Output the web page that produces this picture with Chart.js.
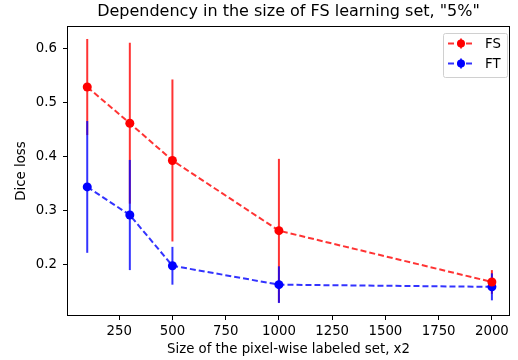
<!DOCTYPE html>
<html>
<head>
<meta charset="utf-8">
<script src="https://cdn.jsdelivr.net/npm/chart.js@4.4.0/dist/chart.umd.min.js"></script>
<style>
  body { margin: 0; background: #fff; }
</style>
</head>
<body>
<canvas id="chart" width="518" height="360"></canvas>
<script>
const sizes = [100, 300, 500, 1000, 2000];
const fsMean = [0.528, 0.461, 0.392, 0.262, 0.167];
const fsErr = [0.089, 0.149, 0.150, 0.133, 0.022];
const ftMean = [0.343, 0.291, 0.197, 0.162, 0.158];
const ftErr = [0.122, 0.102, 0.035, 0.034, 0.025];
const xTicks = [250, 500, 750, 1000, 1250, 1500, 1750, 2000];
const yTicks = [0.2, 0.3, 0.4, 0.5, 0.6];
const seriesNames = ["FS", "FT"];

const FONT = "'DejaVu Sans', sans-serif";
const RED = "rgba(255,0,0,0.8)";
const BLUE = "rgba(0,0,255,0.8)";

// error bars drawn under the lines and markers
const errorBars = {
  id: "errorBars",
  beforeDatasetsDraw(chart) {
    const { ctx, scales } = chart;
    const sets = [[fsMean, fsErr, RED], [ftMean, ftErr, BLUE]];
    ctx.save();
    ctx.lineWidth = 2;
    sets.forEach(([mean, err, color]) => {
      ctx.strokeStyle = color;
      sizes.forEach((x, i) => {
        const px = scales.x.getPixelForValue(x);
        ctx.beginPath();
        ctx.moveTo(px, scales.y.getPixelForValue(mean[i] - err[i]));
        ctx.lineTo(px, scales.y.getPixelForValue(mean[i] + err[i]));
        ctx.stroke();
      });
    });
    ctx.restore();
  },
};

// frame, title and legend in the matplotlib style
const decorations = {
  id: "decorations",
  afterDraw(chart) {
    const { ctx, chartArea: a } = chart;
    ctx.save();
    ctx.strokeStyle = "#000";
    ctx.lineWidth = 1;
    ctx.strokeRect(a.left + 0.5, a.top + 0.5, a.right - a.left - 1, a.bottom - a.top - 1);

    ctx.fillStyle = "#000";
    ctx.font = "16px " + FONT;
    ctx.textAlign = "center";
    ctx.textBaseline = "middle";
    ctx.fillText('Dependency in the size of FS learning set, "5%"', (a.left + a.right) / 2, 11.5);

    // legend
    const bx = a.right - 67, by = a.top + 7, bw = 64, bh = 44;
    ctx.fillStyle = "rgba(255,255,255,0.8)";
    ctx.strokeStyle = "#d0d0d0";
    ctx.beginPath();
    ctx.roundRect(bx + 0.5, by + 0.5, bw, bh, 2);
    ctx.fill();
    ctx.stroke();
    const colors = [RED, BLUE];
    seriesNames.forEach((name, i) => {
      const y = by + 10.5 + i * 20;
      ctx.strokeStyle = colors[i];
      ctx.lineWidth = 2;
      ctx.setLineDash([6, 3]);
      ctx.beginPath();
      ctx.moveTo(bx + 5, y);
      ctx.lineTo(bx + 31, y);
      ctx.stroke();
      ctx.setLineDash([]);
      ctx.beginPath();
      ctx.moveTo(bx + 18, y - 5);
      ctx.lineTo(bx + 18, y + 5);
      ctx.stroke();
      ctx.fillStyle = i === 0 ? "#ff0000" : "#0000ff";
      ctx.beginPath();
      ctx.arc(bx + 18, y, 4, 0, Math.PI * 2);
      ctx.fill();
      ctx.fillStyle = "#000";
      ctx.font = "13.3px " + FONT;
      ctx.textAlign = "left";
      ctx.fillText(name, bx + 42, y + 1);
    });
    ctx.restore();
  },
};

function points(mean) {
  return sizes.map((x, i) => ({ x: x, y: mean[i] }));
}

new Chart(document.getElementById("chart"), {
  type: "line",
  data: {
    datasets: [
      {
        label: seriesNames[0],
        data: points(fsMean),
        borderColor: RED,
        backgroundColor: "#ff0000",
        borderWidth: 2,
        borderDash: [6, 3],
        pointRadius: 4.5,
        pointBorderWidth: 0,
        tension: 0,
      },
      {
        label: seriesNames[1],
        data: points(ftMean),
        borderColor: BLUE,
        backgroundColor: "#0000ff",
        borderWidth: 2,
        borderDash: [6, 3],
        pointRadius: 4.5,
        pointBorderWidth: 0,
        tension: 0,
      },
    ],
  },
  options: {
    responsive: false,
    animation: false,
    layout: { padding: { left: 0, right: 8, top: 26, bottom: 0 } },
    plugins: {
      legend: { display: false },
      tooltip: { enabled: false },
    },
    scales: {
      x: {
        type: "linear",
        min: 5,
        max: 2085,
        afterBuildTicks: (scale) => { scale.ticks = xTicks.map((v) => ({ value: v })); },
        afterFit: (scale) => { scale.height = 44; },
        grid: { display: true, drawOnChartArea: false, drawTicks: true, tickLength: 4, color: "#000" },
        border: { display: false },
        ticks: {
          color: "#000",
          font: { family: FONT, size: 13.3 },
          padding: 4,
          maxRotation: 0,
          autoSkip: false,
          callback: (v) => String(v),
        },
        title: {
          display: true,
          text: "Size of the pixel-wise labeled set, x2",
          color: "#000",
          font: { family: FONT, size: 13.3 },
          padding: { top: 0, bottom: 2 },
        },
      },
      y: {
        min: 0.104,
        max: 0.641,
        afterBuildTicks: (scale) => { scale.ticks = yTicks.map((v) => ({ value: v })); },
        afterFit: (scale) => { scale.width = 67; },
        grid: { display: true, drawOnChartArea: false, drawTicks: true, tickLength: 4, color: "#000" },
        border: { display: false },
        ticks: {
          color: "#000",
          font: { family: FONT, size: 13.3 },
          padding: 6,
          callback: (v) => v.toFixed(1),
        },
        title: {
          display: true,
          text: "Dice loss",
          color: "#000",
          font: { family: FONT, size: 13.3 },
          padding: { top: 14, bottom: 0 },
        },
      },
    },
  },
  plugins: [errorBars, decorations],
});
</script>
</body>
</html>
